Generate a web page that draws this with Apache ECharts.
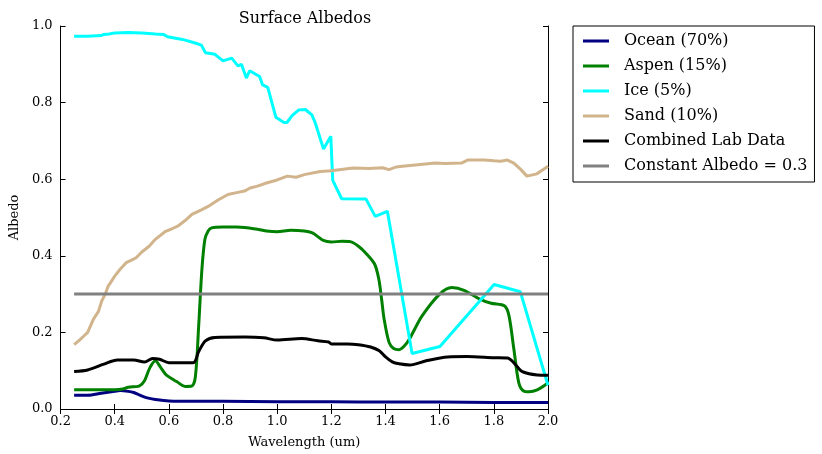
<!DOCTYPE html>
<html>
<head>
<meta charset="utf-8">
<title>Surface Albedos</title>
<script src="https://cdn.jsdelivr.net/npm/echarts@6/dist/echarts.min.js"></script>
<style>
html,body{margin:0;padding:0;background:#fff;}
#chart{width:822px;height:454px;}
</style>
</head>
<body>
<div id="chart"></div>
<script>
// wavelength (um) and albedo, one pair of arrays per surface
var oceanWl=[0.25,0.3,0.35,0.4,0.42,0.45,0.47,0.49,0.52,0.55,0.6,0.7,0.8,1.0,1.2,1.4,1.6,1.8,2.0];
var oceanAlb=[0.036,0.036,0.041,0.046,0.048,0.046,0.043,0.037,0.029,0.025,0.021,0.02,0.02,0.019,0.019,0.018,0.018,0.017,0.017];

var aspenWl=[0.25,0.3,0.35,0.4,0.43,0.45,0.49,0.51,0.53,0.55,0.57,0.59,0.63,0.66,0.685,0.698,0.71,0.722,0.733,0.745,0.758,0.8,0.85,0.88,0.92,0.96,1.0,1.05,1.1,1.13,1.15,1.17,1.2,1.24,1.27,1.3,1.33,1.36,1.375,1.385,1.395,1.413,1.43,1.45,1.47,1.49,1.535,1.6,1.645,1.69,1.75,1.79,1.84,1.856,1.874,1.892,1.91,1.93,1.96,2.0];
var aspenAlb=[0.05,0.05,0.05,0.05,0.052,0.057,0.06,0.074,0.108,0.126,0.108,0.089,0.071,0.059,0.06,0.085,0.217,0.365,0.443,0.465,0.473,0.475,0.475,0.474,0.47,0.465,0.463,0.467,0.465,0.46,0.45,0.44,0.436,0.438,0.437,0.425,0.405,0.378,0.34,0.29,0.234,0.174,0.158,0.155,0.165,0.185,0.243,0.3,0.317,0.31,0.286,0.276,0.269,0.243,0.156,0.069,0.047,0.045,0.05,0.068];

var iceWl=[0.25,0.3,0.35,0.36,0.38,0.4,0.45,0.5,0.55,0.58,0.595,0.6,0.65,0.7,0.72,0.735,0.77,0.8,0.832,0.855,0.868,0.886,0.898,0.935,0.946,0.965,0.995,1.025,1.036,1.055,1.08,1.104,1.128,1.14,1.171,1.198,1.205,1.238,1.328,1.362,1.407,1.498,1.601,1.801,1.898,2.0];
var iceAlb=[0.973,0.973,0.975,0.978,0.979,0.982,0.983,0.982,0.979,0.978,0.972,0.975,0.965,0.955,0.95,0.93,0.926,0.909,0.916,0.896,0.9,0.864,0.883,0.868,0.846,0.84,0.762,0.748,0.748,0.766,0.781,0.782,0.768,0.748,0.679,0.712,0.597,0.549,0.548,0.503,0.516,0.145,0.163,0.325,0.306,0.062];

var sandWl=[0.25,0.27,0.285,0.3,0.321,0.34,0.352,0.365,0.376,0.4,0.42,0.442,0.46,0.479,0.5,0.527,0.55,0.588,0.61,0.636,0.66,0.685,0.72,0.745,0.78,0.818,0.85,0.879,0.9,0.927,0.96,1.0,1.037,1.07,1.1,1.159,1.2,1.28,1.34,1.389,1.413,1.44,1.462,1.52,1.583,1.62,1.68,1.703,1.765,1.8,1.825,1.85,1.874,1.9,1.922,1.959,2.0];
var sandAlb=[0.168,0.18,0.19,0.2,0.234,0.255,0.282,0.3,0.321,0.347,0.365,0.382,0.388,0.395,0.41,0.425,0.443,0.464,0.47,0.479,0.492,0.508,0.52,0.529,0.545,0.56,0.565,0.569,0.577,0.582,0.59,0.598,0.608,0.605,0.612,0.62,0.622,0.629,0.628,0.63,0.625,0.632,0.634,0.638,0.642,0.641,0.642,0.65,0.65,0.648,0.647,0.65,0.642,0.625,0.608,0.614,0.634];

var labWl=[0.25,0.3,0.36,0.41,0.47,0.51,0.54,0.565,0.6,0.69,0.71,0.735,0.77,0.88,0.95,1.0,1.09,1.15,1.19,1.2,1.26,1.3,1.345,1.377,1.4,1.425,1.45,1.49,1.55,1.63,1.7,1.8,1.85,1.875,1.9,1.93,1.96,2.0];
var labAlb=[0.098,0.102,0.117,0.128,0.128,0.123,0.132,0.13,0.121,0.121,0.15,0.178,0.187,0.188,0.186,0.18,0.184,0.178,0.175,0.17,0.17,0.168,0.162,0.152,0.136,0.123,0.118,0.115,0.126,0.136,0.137,0.134,0.133,0.12,0.1,0.092,0.089,0.088];

var constWl=[0.25,2.0];
var constAlb=[0.3,0.3];

var names=['Ocean (70%)','Aspen (15%)','Ice (5%)','Sand (10%)','Combined Lab Data','Constant Albedo = 0.3'];
var colors=['#000080','#008000','#00ffff','#d2b48c','#000000','#808080'];

function pairs(wl,alb){
    var arr=[];
    for(var i=0;i<wl.length;i++){
        arr.push([wl[i],alb[i]]);
    }
    return arr;
}

var serif='"DejaVu Serif", serif';
var allData=[
    pairs(oceanWl,oceanAlb),
    pairs(aspenWl,aspenAlb),
    pairs(iceWl,iceAlb),
    pairs(sandWl,sandAlb),
    pairs(labWl,labAlb),
    pairs(constWl,constAlb)
];
var smoothOn=[0.3,0.3,false,false,0.3,false];

var seri=[];
for(var j=0;j<allData.length;j++){
    seri.push({
        name:names[j],
        type:'line',
        data:allData[j],
        showSymbol:false,
        symbol:'none',
        smooth:smoothOn[j],
        lineStyle:{color:colors[j],width:3},
        itemStyle:{color:colors[j]},
        z:2+j
    });
}

var tickLab=function(v){return v.toFixed(1);};

var xBase={
    type:'value',min:0.2,max:2.0,interval:0.2,
    axisLine:{lineStyle:{color:'#000',width:1}},
    axisTick:{inside:true,length:5,lineStyle:{color:'#000'}},
    splitLine:{show:false}
};
var yBase={
    type:'value',min:0,max:1,interval:0.2,
    axisLine:{show:true,lineStyle:{color:'#000',width:1}},
    axisTick:{show:true,inside:true,length:5,lineStyle:{color:'#000'}},
    splitLine:{show:false}
};

var option={
    backgroundColor:'#fff',
    animation:false,
    title:{
        text:'Surface Albedos',
        left:300,top:6,textAlign:'center',
        textStyle:{fontFamily:serif,fontSize:16,fontWeight:'normal',color:'#000'}
    },
    legend:{
        data:names,
        orient:'vertical',
        left:573,top:26,
        itemWidth:26,itemHeight:3,itemGap:5,
        icon:'rect',
        padding:[5,7,6,10],
        borderColor:'#000',borderWidth:1,borderRadius:0,
        textStyle:{fontFamily:serif,fontSize:16,color:'#000',lineHeight:20,padding:[0,0,0,10]}
    },
    grid:{left:53,right:274,top:26,bottom:44,containLabel:false},
    xAxis:[
        Object.assign({},xBase,{
            position:'bottom',
            name:'Wavelength (um)',nameLocation:'middle',nameGap:27,
            nameTextStyle:{fontFamily:serif,fontSize:13,color:'#000'},
            axisLabel:{formatter:tickLab,fontFamily:serif,fontSize:13,color:'#000',margin:6}
        }),
        Object.assign({},xBase,{position:'top',axisLabel:{show:false}})
    ],
    yAxis:[
        Object.assign({},yBase,{
            position:'left',
            name:'Albedo',nameLocation:'middle',nameGap:38,
            nameTextStyle:{fontFamily:serif,fontSize:13,color:'#000'},
            axisLabel:{formatter:tickLab,fontFamily:serif,fontSize:13,color:'#000',margin:8}
        }),
        Object.assign({},yBase,{position:'right',axisLabel:{show:false}})
    ],
    series:seri
};

var myChart=echarts.init(document.getElementById('chart'));
myChart.setOption(option);
</script>
</body>
</html>
